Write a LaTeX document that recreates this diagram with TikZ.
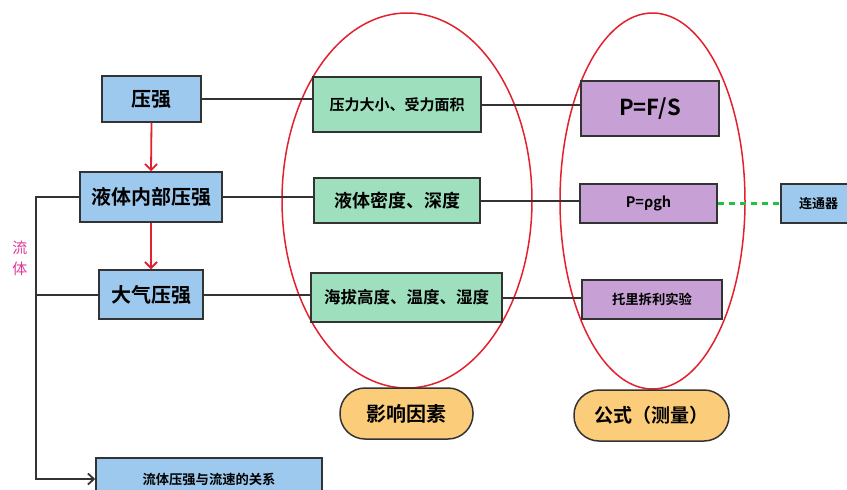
\documentclass[tikz,border=0pt]{standalone}
\usepackage{fontspec}
\setmainfont{Noto Sans CJK SC}[BoldFont={Noto Sans CJK SC Bold}]
\usetikzlibrary{arrows.meta,shapes.geometric}
\definecolor{bluef}{HTML}{9DC9EE}
\definecolor{greenf}{HTML}{9EE0BE}
\definecolor{purplef}{HTML}{C7A1D6}
\definecolor{orangef}{HTML}{FBCC7A}
\definecolor{redl}{HTML}{E3202E}
\definecolor{pinkt}{HTML}{E0379B}
\definecolor{edgec}{HTML}{333333}
\definecolor{dashg}{HTML}{1DC443}
\newcommand{\fs}[1]{\fontsize{#1}{#1}\selectfont\bfseries}
\begin{document}
\begin{tikzpicture}[x=1pt,y=-1pt,
  box/.style={draw=edgec,line width=1.5pt,inner sep=0pt,text=black},
  bluebox/.style={box,fill=bluef},
  greenbox/.style={box,fill=greenf},
  purplebox/.style={box,fill=purplef},
  pill/.style={box,fill=orangef,rounded corners=25pt},
  conn/.style={draw=edgec,line width=2pt},
  redarrow/.style={draw=redl,line width=1.8pt,-{Straight Barb[length=6pt,width=12pt,line width=1.8pt]}},
  ring/.style={ellipse,draw=redl,line width=1.5pt,inner sep=0pt}]
\useasboundingbox (0,0) rectangle (847,490);
\clip (0,0) rectangle (847,490);
% ellipses
\node[ring,minimum width=250pt,minimum height=375pt] (e1) at (407,200.5) {};
\node[ring,minimum width=185pt,minimum height=376pt] (e2) at (652.5,201) {};
% left column
\node[bluebox,minimum width=99pt,minimum height=46pt,font=\fs{20}] (ya) at (151.5,99) {压强};
\node[bluebox,minimum width=142pt,minimum height=50pt,font=\fs{20}] (ye) at (151,197) {液体内部压强};
\node[bluebox,minimum width=104pt,minimum height=49pt,font=\fs{20}] (dq) at (151,294.5) {大气压强};
% green column
\node[greenbox,minimum width=168pt,minimum height=55pt,font=\fs{15}] (f1) at (397,104.5) {压力大小、受力面积};
\node[greenbox,minimum width=166pt,minimum height=45pt,font=\fs{18}] (f2) at (397,200.5) {液体密度、深度};
\node[greenbox,minimum width=191pt,minimum height=49pt,font=\fs{16.5}] (f3) at (406.5,297.5) {海拔高度、温度、湿度};
% purple column
\node[purplebox,minimum width=138pt,minimum height=55pt,font=\fs{22}] (p1) at (650,108.5) {P=F/S};
\node[purplebox,minimum width=137pt,minimum height=39pt,font=\fs{14.5}] (p2) at (648.5,203.5) {P=ρgh};
\node[purplebox,minimum width=140pt,minimum height=39pt,font=\fs{13.3}] (p3) at (652,299.5) {托里拆利实验};
% far right
\node[bluebox,minimum width=75pt,minimum height=39pt,font=\fs{13}] (ltq) at (818.5,203.5) {连通器};
% bottom
\node[bluebox,minimum width=226pt,minimum height=42pt,font=\fs{13.3}] (lb) at (209,479) {流体压强与流速的关系};
% pills
\node[pill,minimum width=133pt,minimum height=51pt,font=\fs{20}] (yx) at (406.5,413.5) {影响因素};
\node[pill,minimum width=155pt,minimum height=51pt,font=\fs{19}] (gs) at (651.5,415.5) {公式（测量）};
% side label
\node[text=pinkt,font=\fontsize{15}{21}\selectfont,align=center,inner sep=0pt] (lt) at (20,258) {流\\体};
% connectors
\draw[conn] (ya.east) -- (ya.east -| f1.west);
\draw[conn] (f1.east) -- (f1.east -| p1.west);
\draw[conn] (ye.east) -- (ye.east -| f2.west);
\draw[conn] (f2.east) -- (f2.east -| p2.west);
\draw[conn] (dq.east) -- (dq.east -| f3.west);
\draw[conn] (f3.east) -- (f3.east -| p3.west);
\draw[draw=dashg,line width=2.2pt,dash pattern=on 6pt off 5pt] (p2.east) -- (ltq.west);
\draw[redarrow] (ya.south) -- (ye.north);
\draw[redarrow] (ye.south) -- (dq.north);
\coordinate (bt) at (36,197);
\draw[conn,-{Straight Barb[length=6pt,width=11pt,line width=1.8pt]}] (ye.west) -- (bt) |- (lb.west);
\draw[conn] (dq.west) -- (dq.west -| bt);
\end{tikzpicture}
\end{document}
